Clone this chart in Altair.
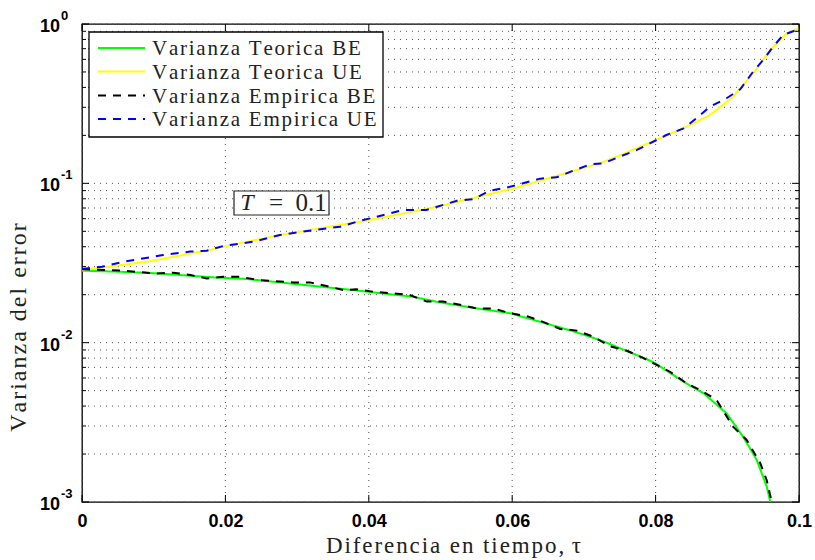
import altair as alt
import pandas as pd

# ---------------- data ----------------
series = ["Varianza Teorica BE", "Varianza Teorica UE",
          "Varianza Empirica BE", "Varianza Empirica UE"]
colors = ["#00ff00", "#ffff00", "#000000", "#0000ff"]
dashes = [[1, 0], [1, 0], [8, 7], [8, 7]]

teo_be_x = [0, 0.005, 0.01, 0.0183, 0.023, 0.0369, 0.0462, 0.0499, 0.0555, 0.0597,
            0.0685, 0.0722, 0.0788, 0.08, 0.0839, 0.0867, 0.0899, 0.0922, 0.0941,
            0.0955, 0.0960]
teo_be_y = [0.0283, 0.0279, 0.0273, 0.0257, 0.0251, 0.0216, 0.0194, 0.0179, 0.0163,
            0.0153, 0.0118, 0.0104, 0.00787, 0.0074, 0.00569, 0.00481, 0.00360,
            0.00257, 0.00184, 0.00125, 0.00100]

teo_ue_x = [0, 0.0025, 0.009, 0.0179, 0.0197, 0.0276, 0.0374, 0.0388, 0.0485, 0.0602,
            0.0722, 0.0746, 0.08, 0.0843, 0.0876, 0.0908, 0.0936, 0.096, 0.0983, 0.1]
teo_ue_y = [0.0285, 0.0295, 0.0322, 0.0382, 0.0400, 0.0474, 0.0561, 0.0574, 0.0697,
            0.0930, 0.1336, 0.147, 0.187, 0.2266, 0.2685, 0.35, 0.49, 0.687, 0.874, 0.94]

emp_be_x = [0, 0.0053, 0.0104, 0.0127, 0.0151, 0.0174, 0.0197, 0.022, 0.0248, 0.0295,
            0.0318, 0.0341, 0.0364, 0.0383, 0.0406, 0.0434, 0.0457, 0.0481, 0.0504,
            0.0527, 0.055, 0.0574, 0.0597, 0.062, 0.0643, 0.0667, 0.069, 0.0713,
            0.0736, 0.076, 0.0783, 0.082, 0.0843, 0.0862, 0.0885, 0.0908, 0.0927,
            0.0946, 0.0955, 0.0962]
emp_be_y = [0.0289, 0.0284, 0.0272, 0.0275, 0.0266, 0.0253, 0.0259, 0.0259, 0.0247,
            0.0239, 0.0239, 0.0227, 0.0214, 0.0216, 0.0209, 0.0204, 0.0199, 0.0181,
            0.0181, 0.0173, 0.0164, 0.0164, 0.0153, 0.0147, 0.0135, 0.0122, 0.0119,
            0.0109, 0.0095, 0.0089, 0.0080, 0.00657, 0.00556, 0.00505, 0.00437,
            0.00297, 0.00245, 0.00175, 0.00137, 0.00100]

emp_ue_x = [0, 0.0028, 0.0058, 0.0113, 0.0151, 0.0174, 0.0197, 0.0239, 0.0276, 0.0323,
            0.036, 0.0388, 0.0402, 0.0448, 0.048, 0.0523, 0.0546, 0.0569, 0.0592,
            0.0615, 0.0639, 0.0662, 0.0685, 0.0709, 0.0727, 0.075, 0.0774, 0.0815,
            0.0839, 0.0857, 0.0876, 0.0899, 0.0918, 0.0936, 0.095, 0.0964, 0.0978, 0.1]
emp_ue_y = [0.0290, 0.0300, 0.0322, 0.0355, 0.0373, 0.0378, 0.0404, 0.0430, 0.0474,
            0.0509, 0.0534, 0.0583, 0.0603, 0.0680, 0.0680, 0.0778, 0.0797, 0.0900,
            0.0940, 0.1000, 0.107, 0.109, 0.120, 0.1316, 0.1335, 0.147, 0.162, 0.201,
            0.221, 0.256, 0.303, 0.342, 0.389, 0.502, 0.594, 0.721, 0.853, 0.93]

x_ticks = [0, 0.02, 0.04, 0.06, 0.08, 0.1]
y_major = [1, 0.1, 0.01, 0.001]
y_exp = ["0", "-1", "-2", "-3"]
y_minor = [m * d for d in [0.001, 0.01, 0.1] for m in range(2, 10)]

ann_box_x = [0.0212, 0.03445]
ann_box_y = [0.0633, 0.0895]
ann_y = 0.0753
ann_T_x = 0.0230
ann_rest_txt = ["=", "0.1"]
ann_rest_x = [0.02705, 0.03195]

# ---------------- helpers ----------------
HS = "\u200a"


def spaced(s):
    return HS.join(list(s))


names = [spaced(s) for s in series]

frames = []
for name, xs, ys, kind in [
    (names[0], teo_be_x, teo_be_y, "teo"),
    (names[1], teo_ue_x, teo_ue_y, "teo"),
    (names[2], emp_be_x, emp_be_y, "emp"),
    (names[3], emp_ue_x, emp_ue_y, "emp"),
]:
    frames.append(pd.DataFrame({"x": xs, "v": ys, "serie": name, "kind": kind}))
df = pd.concat(frames, ignore_index=True)

W, H = 717, 478
TXT = "#222222"

xscale = alt.Scale(domain=[0, 0.1], nice=False, zero=False)
yscale = alt.Scale(type="log", domain=[0.001, 1], nice=False, clamp=False)

color_scale = alt.Scale(domain=names, range=colors)
dash_scale = alt.Scale(domain=names, range=dashes)

x_enc = alt.X("x:Q", scale=xscale, axis=alt.Axis(
    values=x_ticks, grid=False, ticks=False, domain=False,
    labelFont="Liberation Sans", labelFontWeight="bold", labelFontSize=18,
    labelColor="#000000", labelPadding=10, labelFlush=False, labelOverlap=False,
    labelExpr="datum.value == 0 ? '0' : format(datum.value, '.2~f')",
    title=spaced("Diferencia en tiempo, ") + "τ",
    titleFont="Liberation Serif", titleFontSize=23, titleFontWeight="normal",
    titleColor=TXT, titlePadding=4, titleX=371,
))
y_enc = alt.Y("v:Q", scale=yscale, axis=alt.Axis(
    labels=False, ticks=False, domain=False, grid=False,
    title=spaced("Varianza del error"),
    titleFont="Liberation Serif", titleFontSize=24, titleFontWeight="normal",
    titleColor=TXT, titleAngle=270, titleX=-64, titleY=303,
    titleAlign="center", titleBaseline="middle",
))

# grid
ygrid_df = pd.DataFrame({"v": y_minor + y_major})
xgrid_df = pd.DataFrame({"x": x_ticks})
grid_style = dict(color="#555555", strokeWidth=1, strokeDash=[1, 5])

hgrid = alt.Chart(ygrid_df).mark_rule(**grid_style).encode(
    y=alt.Y("v:Q", scale=yscale), x=alt.value(0), x2=alt.value(W))
vgrid = alt.Chart(xgrid_df).mark_rule(**grid_style).encode(
    x=alt.X("x:Q", scale=xscale), y=alt.value(0), y2=alt.value(H))

# lines
base = alt.Chart(df)
teo = base.transform_filter("datum.kind == 'teo'").mark_line(strokeWidth=2, clip=True).encode(
    x=x_enc, y=y_enc,
    color=alt.Color("serie:N", scale=color_scale, legend=None),
    strokeDash=alt.StrokeDash("serie:N", scale=dash_scale, legend=None),
    order="x:Q",
)
emp = base.transform_filter("datum.kind == 'emp'").mark_line(strokeWidth=2, clip=True).encode(
    x="x:Q", y="v:Q",
    color=alt.Color("serie:N", scale=color_scale, legend=None),
    strokeDash=alt.StrokeDash("serie:N", scale=dash_scale, legend=None),
    order="x:Q",
)

# ticks (inside, on all four sides)
ymaj_df = pd.DataFrame({"v": y_major})
ymin_df = pd.DataFrame({"v": y_minor})
tick_style = dict(color="#000000", strokeWidth=1)
ticks = [
    alt.Chart(ymaj_df).mark_rule(**tick_style).encode(
        y=alt.Y("v:Q", scale=yscale), x=alt.value(0), x2=alt.value(7)),
    alt.Chart(ymaj_df).mark_rule(**tick_style).encode(
        y=alt.Y("v:Q", scale=yscale), x=alt.value(W - 7), x2=alt.value(W)),
    alt.Chart(ymin_df).mark_rule(**tick_style).encode(
        y=alt.Y("v:Q", scale=yscale), x=alt.value(0), x2=alt.value(4)),
    alt.Chart(ymin_df).mark_rule(**tick_style).encode(
        y=alt.Y("v:Q", scale=yscale), x=alt.value(W - 4), x2=alt.value(W)),
    alt.Chart(xgrid_df).mark_rule(**tick_style).encode(
        x=alt.X("x:Q", scale=xscale), y=alt.value(H - 7), y2=alt.value(H)),
    alt.Chart(xgrid_df).mark_rule(**tick_style).encode(
        x=alt.X("x:Q", scale=xscale), y=alt.value(0), y2=alt.value(7)),
]

# y tick labels as 10^n
ylab_df = pd.DataFrame({"v": y_major, "e": y_exp})
ylab_base = alt.Chart(ylab_df).mark_text(
    text="10", align="right", baseline="middle", dy=3,
    font="Liberation Sans", fontWeight="bold", fontSize=18, color="#000000",
).encode(y=alt.Y("v:Q", scale=yscale), x=alt.value(-22))
ylab_exp = alt.Chart(ylab_df).mark_text(
    align="left", baseline="middle", dy=-8,
    font="Liberation Sans", fontWeight="bold", fontSize=13, color="#000000",
).encode(y=alt.Y("v:Q", scale=yscale), x=alt.value(-21), text="e:N")

# annotation T = 0.1
box_df = pd.DataFrame({"x": [ann_box_x[0]], "x2": [ann_box_x[1]],
                       "v": [ann_box_y[0]], "v2": [ann_box_y[1]]})
box = alt.Chart(box_df).mark_rect(fill="#ffffff", stroke="#222222", strokeWidth=1.2).encode(
    x=alt.X("x:Q", scale=xscale), x2="x2:Q",
    y=alt.Y("v:Q", scale=yscale), y2="v2:Q")
tT = alt.Chart(pd.DataFrame({"x": [ann_T_x], "v": [ann_y], "t": ["T"]})).mark_text(
    font="Liberation Serif", fontSize=24, fontStyle="italic", color=TXT,
    align="center", baseline="middle",
).encode(x=alt.X("x:Q", scale=xscale), y=alt.Y("v:Q", scale=yscale), text="t:N")
trest = alt.Chart(pd.DataFrame({"x": ann_rest_x, "v": [ann_y] * 2, "t": ann_rest_txt})).mark_text(
    font="Liberation Serif", fontSize=25, color=TXT,
    align="center", baseline="middle",
).encode(x=alt.X("x:Q", scale=xscale), y=alt.Y("v:Q", scale=yscale), text="t:N")

# legend (MATLAB style box, drawn in pixels inside the plot area)
leg_box = alt.Chart(pd.DataFrame({"k": [0]})).mark_rect(
    fill="#ffffff", stroke="#000000", strokeWidth=1.3).encode(
    x=alt.value(7), x2=alt.value(301), y=alt.value(8), y2=alt.value(113))
leg_rows_y = [24, 47.5, 71.5, 95]
leg_layers = [leg_box]
for i, name in enumerate(names):
    d = pd.DataFrame({"serie": [name]})
    leg_layers.append(alt.Chart(d).mark_rule(
        strokeWidth=2, color=colors[i], strokeDash=dashes[i]).encode(
        x=alt.value(16), x2=alt.value(63), y=alt.value(leg_rows_y[i])))
    leg_layers.append(alt.Chart(d).mark_text(
        font="Liberation Serif", fontSize=21, color=TXT, align="left",
        baseline="middle", dy=1).encode(
        x=alt.value(70), y=alt.value(leg_rows_y[i]), text="serie:N"))

chart = alt.layer(
    hgrid, vgrid, teo, emp, box, tT, trest, *ticks, ylab_base, ylab_exp, *leg_layers
).properties(
    width=W, height=H,
    padding={"left": 82, "top": 24, "right": 16, "bottom": 58},
    autosize=alt.AutoSizeParams(type="none"),
    background="#ffffff",
).configure_view(stroke="#000000", strokeWidth=1.3)

chart.save("out.html", embed_options={"renderer": "svg", "actions": False})
